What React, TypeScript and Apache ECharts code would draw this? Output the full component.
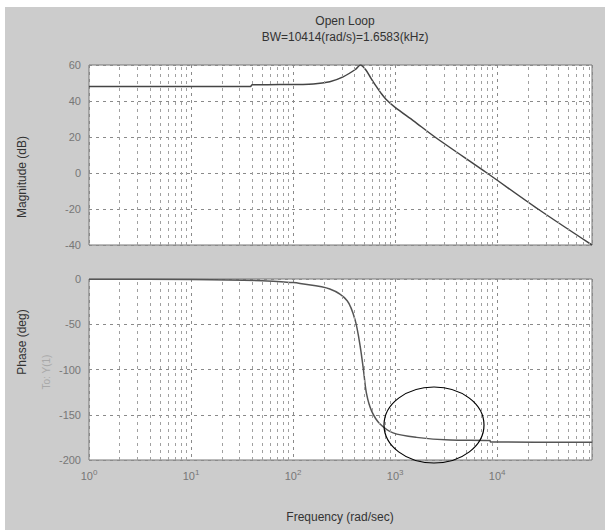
import React, { useEffect, useRef } from "react";
import * as echarts from "echarts";

// Frequency (rad/s) and magnitude (dB)
const magFreq = [1, 10, 38, 39.8, 74, 158, 229, 309, 407, 457, 513, 575, 646, 724, 813, 1000, 1514, 2455, 7943, 25119, 85000];
const magDb = [48, 48, 48, 49, 49.1, 49.5, 50.7, 53.4, 57.5, 60, 57.5, 53, 48.5, 44.5, 41, 36.5, 29, 20, 0, -20, -40];

// Frequency (rad/s) and phase (deg)
const phFreq = [1, 10, 50, 100, 117, 229, 339, 407, 457, 490, 525, 589, 708, 955, 1622, 3467, 8500, 8600, 85000];
const phDeg = [-0.3, -0.6, -1.8, -4, -5, -11, -24, -46, -76, -101, -127, -146, -160, -170, -175, -178, -178.5, -180, -180.5];

const magTicks = [-40, -20, 0, 20, 40, 60];
const phaseTicks = [-200, -150, -100, -50, 0];
const decades = [0, 1, 2, 3, 4];

const titleLines = ["Open Loop", "BW=10414(rad/s)=1.6583(kHz)"];

const minorGrid: number[] = [];
decades.forEach((d) => {
  for (let k = 2; k <= 9; k++) {
    const v = k * Math.pow(10, d);
    if (v < 85000) minorGrid.push(v);
  }
});

const gridLine = { color: "#8a8a8a", type: [3, 4] as any, width: 1 };

export default function App() {
  const ref = useRef<HTMLDivElement>(null);
  useEffect(() => {
    document.body.style.margin = "0";
    const chart = echarts.init(ref.current!, null, { renderer: "svg" });
    const xFormatter = (v: number) => {
      const l = Math.log10(v);
      const e = Math.round(l);
      if (Math.abs(l - e) > 1e-6) return "";
      return "10{s|" + e + "}";
    };
    const xAxisBase = (idx: number) => ({
      type: "log" as const,
      gridIndex: idx,
      min: 1,
      max: 85000,
      logBase: 10,
      axisLine: { show: false },
      axisTick: { show: false },
      splitLine: { show: true, lineStyle: gridLine },
      axisLabel: idx === 1
        ? {
            formatter: xFormatter,
            color: "#777",
            fontSize: 11,
            fontFamily: "Liberation Sans",
            margin: 8,
            rich: { s: { fontSize: 8, color: "#777", padding: [0, 0, 7, 0], fontFamily: "Liberation Sans" } },
          }
        : { show: false },
    });
    const mkLine = () => ({
      silent: true,
      symbol: "none",
      label: { show: false },
      lineStyle: { ...gridLine, color: "#a0a0a0" },
      data: minorGrid.map((v) => ({ xAxis: v })),
    });
    chart.setOption({
      animation: false,
      backgroundColor: "#ffffff",
      graphic: [
        { type: "rect", z: -10, shape: { x: 5, y: 7, width: 600, height: 523 }, style: { fill: "#cccccc" } },
        {
          type: "text", x: 22, y: 177, rotation: Math.PI / 2,
          style: { text: "Magnitude (dB)", fill: "#333", font: "12px 'Liberation Sans'", align: "center", verticalAlign: "middle" },
        },
        {
          type: "text", x: 22, y: 342, rotation: Math.PI / 2,
          style: { text: "Phase (deg)", fill: "#333", font: "12px 'Liberation Sans'", align: "center", verticalAlign: "middle" },
        },
        {
          type: "text", x: 46, y: 372, rotation: Math.PI / 2,
          style: { text: "To: Y(1)", fill: "#a8a8a8", font: "10px 'Liberation Sans'", align: "center", verticalAlign: "middle" },
        },
        {
          type: "text", x: 340, y: 517,
          style: { text: "Frequency (rad/sec)", fill: "#333", font: "12px 'Liberation Sans'", align: "center", verticalAlign: "middle" },
        },
        {
          type: "ellipse", z: 100,
          shape: { cx: 434, cy: 425, rx: 50, ry: 38 },
          style: { fill: "none", stroke: "#000", lineWidth: 1.2 },
        },
      ],
      title: {
        text: titleLines[0],
        subtext: titleLines[1],
        left: 340,
        textAlign: "center",
        top: 10,
        itemGap: 4,
        textStyle: { fontSize: 12, fontWeight: "normal", color: "#333", fontFamily: "Liberation Sans" },
        subtextStyle: { fontSize: 12, color: "#333", fontFamily: "Liberation Sans" },
      },
      grid: [
        { left: 89, top: 65, width: 503, height: 180, show: true, backgroundColor: "#fff", borderColor: "#777", borderWidth: 1 },
        { left: 89, top: 279, width: 503, height: 181, show: true, backgroundColor: "#fff", borderColor: "#777", borderWidth: 1 },
      ],
      xAxis: [xAxisBase(0), xAxisBase(1)],
      yAxis: [
        {
          type: "value", gridIndex: 0, min: -40, max: 60, interval: 20,
          axisLine: { show: false }, axisTick: { show: false },
          splitLine: { show: true, lineStyle: gridLine },
          axisLabel: { color: "#777", fontSize: 11, fontFamily: "Liberation Sans", margin: 8,
            formatter: (v: number) => (magTicks.includes(v) ? String(v) : "") },
        },
        {
          type: "value", gridIndex: 1, min: -200, max: 0, interval: 50,
          axisLine: { show: false }, axisTick: { show: false },
          splitLine: { show: true, lineStyle: gridLine },
          axisLabel: { color: "#777", fontSize: 11, fontFamily: "Liberation Sans", margin: 8,
            formatter: (v: number) => (phaseTicks.includes(v) ? String(v) : "") },
        },
      ],
      series: [
        {
          type: "line", xAxisIndex: 0, yAxisIndex: 0, showSymbol: false, smooth: 0.3,
          lineStyle: { color: "#444", width: 1.5 },
          data: magFreq.map((f, i) => [f, magDb[i]]),
          markLine: mkLine(),
        },
        {
          type: "line", xAxisIndex: 1, yAxisIndex: 1, showSymbol: false, smooth: 0.3,
          lineStyle: { color: "#555", width: 1.5 },
          data: phFreq.map((f, i) => [f, phDeg[i]]),
          markLine: mkLine(),
        },
      ],
    });
    return () => chart.dispose();
  }, []);
  return <div ref={ref} style={{ width: 605, height: 530 }} />;
}
